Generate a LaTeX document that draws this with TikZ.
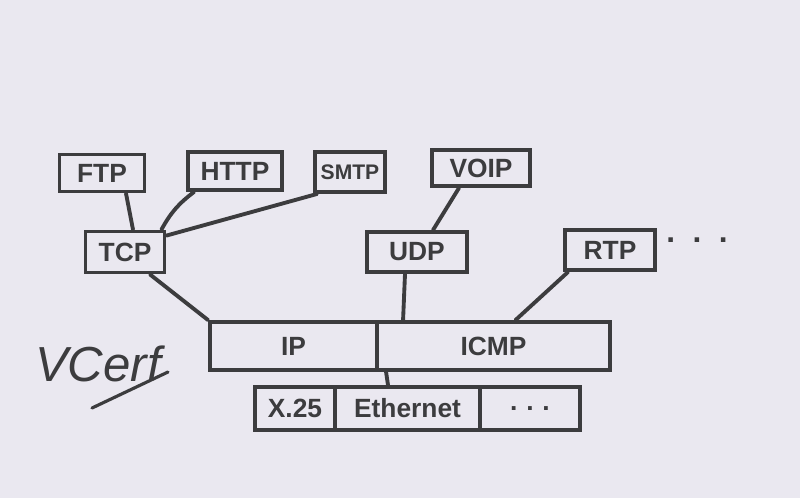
\documentclass[tikz,border=0pt]{standalone}
\usepackage{fontspec}
\setmainfont{Liberation Sans}
\usetikzlibrary{calc}
\definecolor{paper}{HTML}{EAE8F0}
\definecolor{ink}{HTML}{3C3C3E}
\begin{document}
\begin{tikzpicture}[x=0.02cm,y=-0.02cm,
  box/.style={draw=ink,line width=2.2pt,inner sep=0pt,text=ink,
    font=\fontsize{15}{17}\selectfont\bfseries},
  wire/.style={draw=ink,line width=2.2pt,line cap=round}]
\fill[paper] (0,0) rectangle (800,498);
\useasboundingbox (0,0) rectangle (800,498);
% application layer
\node[box,minimum width=85*0.02cm,minimum height=37*0.02cm] (ftp) at (102,173) {FTP};
\node[box,minimum width=94*0.02cm,minimum height=38*0.02cm] (http) at (235,171) {HTTP};
\node[box,minimum width=70*0.02cm,minimum height=40*0.02cm,font=\fontsize{12}{14}\selectfont\bfseries] (smtp) at (350,172) {SMTP};
\node[box,minimum width=98*0.02cm,minimum height=36*0.02cm] (voip) at (481,168) {VOIP};
% transport layer
\node[box,minimum width=79*0.02cm,minimum height=41*0.02cm] (tcp) at (125,252) {TCP};
\node[box,minimum width=100*0.02cm,minimum height=40*0.02cm] (udp) at (417,252) {UDP};
\node[box,minimum width=90*0.02cm,minimum height=40*0.02cm] (rtp) at (610,250) {RTP};
\node[text=ink,font=\fontsize{18}{18}\selectfont\bfseries] (more) at (697,240) {.\;\;.\;\;.};
% internet layer
\node[box,minimum width=167*0.02cm,minimum height=48*0.02cm] (ip) at (293.5,346) {IP};
\node[box,minimum width=233*0.02cm,minimum height=48*0.02cm] (icmp) at (493.5,346) {ICMP};
% link layer
\node[box,minimum width=80*0.02cm,minimum height=43*0.02cm] (x25) at (295,408.5) {X.25};
\node[box,minimum width=145*0.02cm,minimum height=43*0.02cm] (eth) at (407.5,408.5) {Ethernet};
\node[box,minimum width=100*0.02cm,minimum height=43*0.02cm] (ldots) at (530,408.5) {.\,\,.\,\,.};
% connectors
\draw[wire] ($(ftp.south)+(24,0)$) -- ($(tcp.north)+(8,0)$);
\draw[wire] ($(http.south west)+(8,0)$) to[bend right=12] ($(tcp.north east)+(-5,0)$);
\draw[wire] ($(smtp.south west)+(4,0)$) -- ($(tcp.north east)+(0,6)$);
\draw[wire] ($(voip.south)+(-22,0)$) -- ($(udp.north)+(16,0)$);
\draw[wire] ($(udp.south)+(-12,0)$) -- ($(icmp.north west)+(28,0)$);
\draw[wire] ($(rtp.south west)+(5,0)$) -- ($(icmp.north)+(22,0)$);
\draw[wire] ($(tcp.south)+(25,0)$) -- (ip.north west);
\draw[wire] ($(icmp.south west)+(11,0)$) -- ($(eth.north)+(-19.5,0)$);
% signature
\node[text=ink,font=\fontsize{28}{28}\selectfont\itshape] (sig) at (98,364) {VCerf};
\draw[wire,line width=1.8pt] (92,408) -- (168,372);
\end{tikzpicture}
\end{document}
